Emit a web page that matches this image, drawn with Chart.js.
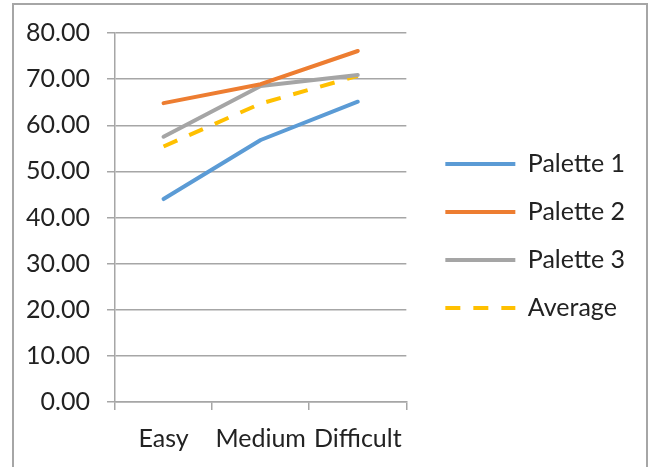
<!DOCTYPE html>
<html>
<head>
<meta charset="utf-8">
<script src="https://cdn.jsdelivr.net/npm/chart.js@4/dist/chart.umd.min.js"></script>
<style>
  html, body { margin: 0; padding: 0; background: #fff; overflow: hidden; }
  #frame {
    position: absolute; left: 12px; top: 3px; width: 632px; height: 480px;
    border: 2px solid #a6a6a6;
  }
  #wrap { position: absolute; left: 0; top: 0; width: 649px; height: 467px; }
</style>
</head>
<body>
<div id="frame"></div>
<div id="wrap"><canvas id="chart"></canvas></div>
<script>
// ------------------------- DATA -------------------------
const categories = ['Easy', 'Medium', 'Difficult'];
const palette1 = [44.0, 56.8, 65.1];
const palette2 = [64.8, 68.9, 76.1];
const palette3 = [57.5, 68.5, 70.9];
const average  = [55.4, 64.7, 70.7];

const yMin = 0, yMax = 80, yStep = 10;

// ------------------------- LOOK -------------------------
const FONT = { family: 'Lato, "Open Sans", sans-serif', size: 25 };
const AXIS_GRAY = '#a6a6a6';
const TEXT = '#222';

// legend box nudged right/up after layout (padding also sets row spacing)
const LEGEND_DX = 16;
const LEGEND_DY = -14;

const legendNudge = {
  id: 'legendNudge',
  afterLayout(chart) {
    const lg = chart.legend;
    if (!lg) return;
    lg.left += LEGEND_DX; lg.right += LEGEND_DX;
    lg.top += LEGEND_DY; lg.bottom += LEGEND_DY;
  }
};

function line(label, data, color, dash) {
  return {
    label, data,
    borderColor: color,
    backgroundColor: color,
    borderWidth: 4,
    borderDash: dash || [],
    borderCapStyle: dash ? 'butt' : 'round',
    borderJoinStyle: 'round',
    pointRadius: 0,
    pointHoverRadius: 0,
    tension: 0,
    fill: false
  };
}

new Chart(document.getElementById('chart').getContext('2d'), {
  type: 'line',
  data: {
    labels: categories,
    datasets: [
      line('Palette 1', palette1, '#5b9bd5'),
      line('Palette 2', palette2, '#ed7d31'),
      line('Palette 3', palette3, '#a5a5a5'),
      line('Average', average, '#ffc000', [15, 13])
    ]
  },
  options: {
    responsive: true,
    maintainAspectRatio: false,
    animation: false,
    layout: { padding: { top: 33, right: 30, bottom: 0, left: 0 } },
    plugins: {
      tooltip: { enabled: false },
      legend: {
        position: 'right',
        maxWidth: 400,
        labels: {
          usePointStyle: true,
          pointStyle: 'line',
          pointStyleWidth: 70,
          padding: 23,
          color: TEXT,
          font: FONT,
          generateLabels(chart) {
            return chart.data.datasets.map((ds, i) => ({
              text: ds.label,
              datasetIndex: i,
              pointStyle: 'line',
              strokeStyle: ds.borderColor,
              fillStyle: ds.borderColor,
              lineWidth: 4,
              lineDash: ds.borderDash,
              lineCap: 'butt',
              fontColor: TEXT
            }));
          }
        }
      }
    },
    scales: {
      x: {
        offset: true,
        grid: {
          offset: true,
          drawOnChartArea: false,
          drawTicks: true,
          tickLength: 8,
          color: AXIS_GRAY,
          lineWidth: 1.5
        },
        border: { display: true, color: AXIS_GRAY, width: 1.5 },
        ticks: { color: TEXT, font: FONT, padding: 14, maxRotation: 0 },
        afterFit(scale) { scale.height = 65; }
      },
      y: {
        min: yMin,
        max: yMax,
        grid: {
          color: AXIS_GRAY,
          lineWidth: 1.5,
          drawTicks: true,
          tickLength: 8
        },
        border: { display: true, color: AXIS_GRAY, width: 1.5 },
        ticks: {
          stepSize: yStep,
          color: TEXT,
          font: FONT,
          padding: 17,
          callback: v => v.toFixed(2)
        },
        afterFit(scale) { scale.width = 115; }
      }
    }
  },
  plugins: [legendNudge]
});
</script>
</body>
</html>
